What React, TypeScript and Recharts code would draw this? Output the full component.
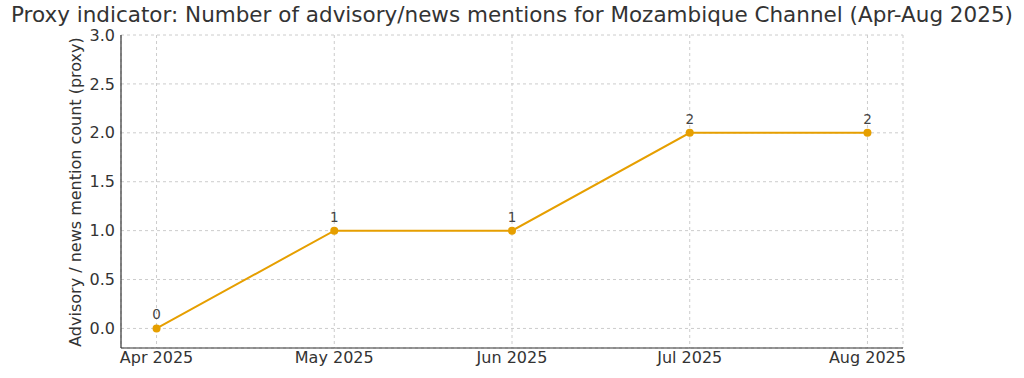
import { LineChart, Line, XAxis, YAxis, CartesianGrid, LabelList } from 'recharts'

const months = ['Apr 2025', 'May 2025', 'Jun 2025', 'Jul 2025', 'Aug 2025']
const mentions = [0, 1, 1, 2, 2]
const yTicks = [0, 0.5, 1, 1.5, 2, 2.5, 3]
const xTicks = [0, 1, 2, 3, 4]

const title = 'Proxy indicator: Number of advisory/news mentions for Mozambique Channel (Apr-Aug 2025)'
const yLabel = 'Advisory / news mention count (proxy)'

const data = months.map((m, i) => ({ idx: i, month: m, count: mentions[i] }))

const font = 'DejaVu Sans, sans-serif'
const textColor = '#333333'
const lineColor = '#E69F00'

export default function App() {
  return (
    <div style={{ position: 'absolute', left: 0, top: 0, width: 1024, height: 378, fontFamily: font }}>
      <div
        style={{
          position: 'absolute',
          left: 0,
          top: 1,
          width: 1024,
          textAlign: 'center',
          fontSize: 21.5,
          color: textColor,
          whiteSpace: 'nowrap',
          lineHeight: '28px',
        }}
      >
        {title}
      </div>
      <LineChart
        width={1024}
        height={378}
        data={data}
        margin={{ top: 35, right: 121, left: 61, bottom: 0 }}
      >
        <CartesianGrid stroke="#cccccc" strokeDasharray="3 3" />
        <XAxis
          dataKey="idx"
          type="number"
          domain={[-0.2, 4.2]}
          ticks={xTicks}
          tickFormatter={(v: number) => months[v] ?? ''}
          height={30}
          axisLine={{ stroke: textColor, strokeWidth: 1.2 }}
          tickLine={false}
          tickSize={2}
          tick={{ fill: textColor, fontSize: 16, fontFamily: font }}
          interval={0}
        />
        <YAxis
          type="number"
          domain={[-0.2, 3]}
          ticks={yTicks}
          allowDataOverflow
          tickFormatter={(v: number) => v.toFixed(1)}
          width={60}
          axisLine={{ stroke: textColor, strokeWidth: 1.2 }}
          tickLine={false}
          tickSize={4}
          tick={{ fill: textColor, fontSize: 16, fontFamily: font }}
          label={{
            content: () => (
              <text
                x={75}
                y={192}
                transform="rotate(-90, 75, 192)"
                textAnchor="middle"
                dominantBaseline="central"
                fill={textColor}
                fontSize={16}
                fontFamily={font}
              >
                {yLabel}
              </text>
            ),
          }}
        />
        <Line
          type="linear"
          dataKey="count"
          stroke={lineColor}
          strokeWidth={2}
          dot={{ r: 4, fill: lineColor, stroke: lineColor, strokeWidth: 0 }}
          activeDot={false}
          isAnimationActive={false}
        >
          <LabelList dataKey="count" position="top" offset={9} fill="#444444" fontSize={13.5} fontFamily={font} />
        </Line>
      </LineChart>
    </div>
  )
}
